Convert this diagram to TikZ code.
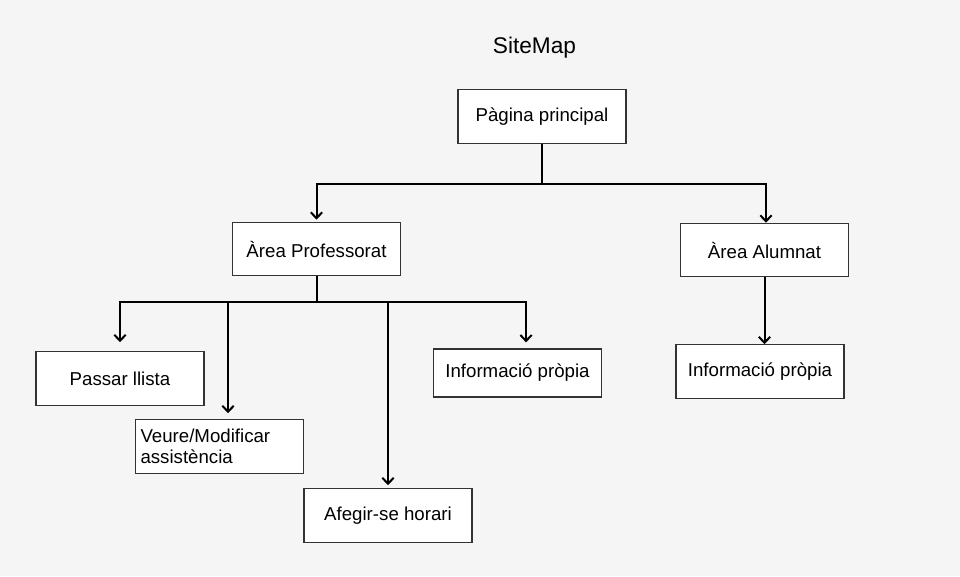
\documentclass[tikz,border=0pt]{standalone}
\usepackage{fontspec}
\setmainfont{Liberation Sans}
\usetikzlibrary{positioning}
\usetikzlibrary{arrows.meta}
\definecolor{bgColor}{HTML}{F5F5F5}
\definecolor{boxColor}{HTML}{333333}

\begin{document}
\begin{tikzpicture}[x=0.75pt,y=-0.75pt]

          \tikzstyle{titleNode} = [font=\fontsize{17}{20}\selectfont, anchor=base];
          \tikzstyle{pageNode} = [draw=boxColor, fill=white, line width=0.9pt, minimum width=126pt, minimum height=40pt, inner sep=0pt, font=\fontsize{14}{16}\selectfont];
          \tikzstyle{linkEdge} = [line width=1.5pt];
          \tikzstyle{arrowEdge} = [linkEdge, -{Straight Barb[length=4.5pt,width=8.5pt]}];

          \fill[bgColor] (0,0) rectangle (960,576);
          \useasboundingbox (0,0) rectangle (960,576);

          \node[titleNode] (title) at (534.5,53.3) {SiteMap};

          \node[pageNode] (home) at (542,116.5) {Pàgina principal};
          \node[pageNode] (prof) at (316.5,249) {Àrea Professorat};
          \node[pageNode] (alum) at (764.5,250) {Àrea Alumnat};
          \node[pageNode] (infoA) at (760,371.5) {Informació pròpia};
          \node[pageNode] (llista) at (120,378.5) {Passar llista};
          \node[pageNode, align=left, text width=118.5pt, inner xsep=3.75pt] (assist) at (219.5,446.5) {Veure/Modificar\\assistència};
          \node[pageNode] (horari) at (388,515.5) {Afegir-se horari};
          \node[pageNode, minimum height=36pt] (infoP) at (517.5,373) {Informació pròpia};

          \coordinate (homeBus) at (542,184);
          \coordinate (profBus) at (316.5,301.5);

          \draw[linkEdge] (home) -- (homeBus);
          \draw[arrowEdge, shorten >=1.5pt] (homeBus) -| (prof);
          \draw[arrowEdge] (homeBus) -| ([xshift=1.1pt]alum.north);
          \draw[arrowEdge] (alum) -- (infoA.north -| alum.south);

          \draw[linkEdge] (prof) -- (profBus);
          \draw[arrowEdge, shorten >=6.75pt] (profBus) -| (llista.north);
          \draw[arrowEdge, shorten >=4.5pt] (profBus) -| ([xshift=6.4pt]assist.north);
          \draw[arrowEdge, shorten >=2.25pt] (profBus) -| (horari.north);
          \draw[arrowEdge, shorten >=4.5pt] (profBus) -| ([xshift=6.4pt]infoP.north);
        \end{tikzpicture}
\end{document}
